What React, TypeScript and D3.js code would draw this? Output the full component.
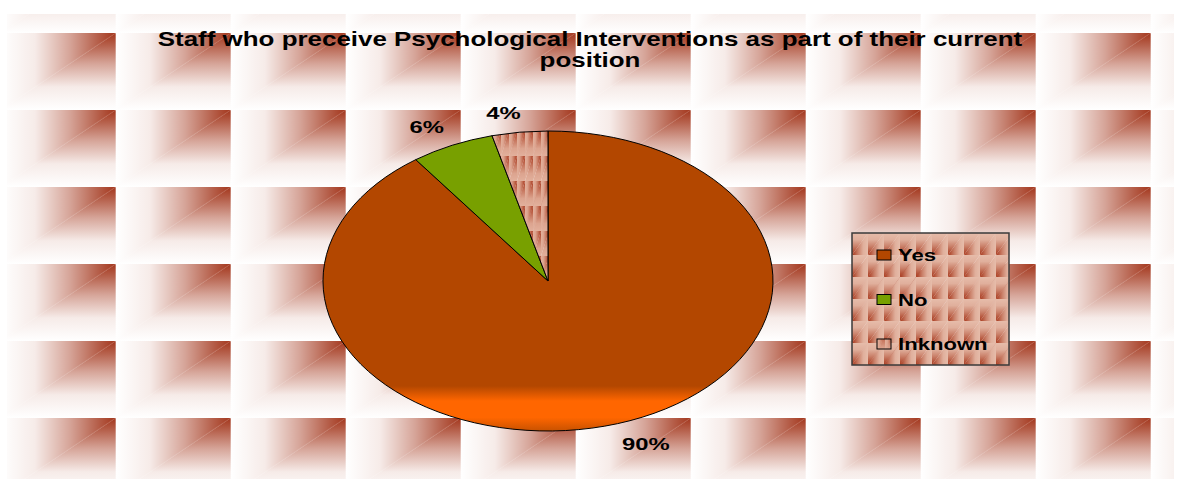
import React from "react";
import * as d3 from "d3";

const categories = ["Yes", "No", "Inknown"];
const values = [90, 6, 4];
const valueLabels = ["90%", "6%", "4%"];
const titleLines = [
  "Staff who preceive Psychological Interventions as part of their current",
  "position",
];

const W = 1181;
const H = 479;
const FONT = "'Liberation Sans', Arial, Helvetica, sans-serif";

const ramp = (base: string, dark: string) => {
  const ip = d3.interpolateRgb(base, dark);
  return [0, 0.3, 0.6, 0.85, 1].map((o, i) => ({
    o,
    c: ip([0, 0.1, 0.45, 0.8, 1][i]),
  }));
};

function Tile({ id, x, y, w, h, base, dark, rotate }: any) {
  const stops = ramp(base, dark);
  return (
    <g>
      <linearGradient id={id + "-h"} x1="0" y1="0" x2="1" y2="0">
        {stops.map((s, i) => (
          <stop key={i} offset={s.o} stopColor={s.c} />
        ))}
      </linearGradient>
      <linearGradient id={id + "-v"} x1="0" y1="1" x2="0" y2="0">
        {stops.map((s, i) => (
          <stop key={i} offset={s.o} stopColor={s.c} />
        ))}
      </linearGradient>
      <pattern
        id={id}
        patternUnits="userSpaceOnUse"
        x={x}
        y={y}
        width={w}
        height={h}
      >
        <g transform={rotate ? `rotate(180 ${w / 2} ${h / 2})` : undefined}>
          <polygon points={`0,0 ${w},0 0,${h}`} fill={`url(#${id}-h)`} />
          <polygon points={`${w},0 ${w},${h} 0,${h}`} fill={`url(#${id}-v)`} />
        </g>
      </pattern>
    </g>
  );
}

export default function App() {
  const cx = 548;
  const cy = 281;
  const rx = 225;
  const ry = 150;

  const pie = d3.pie<number>().sort(null).value((d) => d)(values);
  const pt = (a: number, k = 1) => [cx + rx * k * Math.sin(a), cy - ry * k * Math.cos(a)];
  const slicePath = (s: any) => {
    const [x0, y0] = pt(s.startAngle);
    const [x1, y1] = pt(s.endAngle);
    const large = s.endAngle - s.startAngle > Math.PI ? 1 : 0;
    return `M${cx},${cy}L${x0},${y0}A${rx},${ry} 0 ${large} 1 ${x1},${y1}Z`;
  };
  const fills = ["url(#yesGrad)", "#78a000", "url(#unkPat)"];
  const swatch = ["#b34700", "#78a000", "url(#unkPat)"];

  const labelScale = 1.4;
  const labelW = (t: string) => t.length * 9.5 * labelScale * 0.95;

  const legendX = 852;
  const legendY = 233;
  const legendW = 157;
  const legendH = 132;
  const legendRow = d3.scaleLinear().domain([0, 2]).range([legendY + 22, legendY + 111]);

  return (
    <div style={{ position: "absolute", left: 0, top: 0 }}>
      <svg width={W} height={H} style={{ display: "block", background: "#fff" }}>
        <defs>
          <Tile id="bgTile" x={0.7} y={33} w={115} h={77} base="#ffffff" dark="#a3361c" />
          <Tile id="legTile" x={legendX} y={legendY} w={16} h={22} base="#e6bcaa" dark="#a8381c" rotate />
          <Tile id="unkPat" x={493} y={131} w={8} h={25} base="#e2b09c" dark="#a8381c" />
          <linearGradient id="yesGrad" x1="0" y1="0" x2="0" y2="1">
            <stop offset="0" stopColor="#b34700" />
            <stop offset="0.85" stopColor="#b34700" />
            <stop offset="0.9" stopColor="#ff6600" />
            <stop offset="0.955" stopColor="#ff6600" />
            <stop offset="1" stopColor="#c85200" />
          </linearGradient>
          <clipPath id="plotClip">
            <rect x={7} y={14} width={1167} height={465} />
          </clipPath>
        </defs>

        <rect x={7} y={14} width={1167} height={465} fill="url(#bgTile)" clipPath="url(#plotClip)" />

        {titleLines.map((t, i) => (
          <text
            key={i}
            transform={`translate(590 ${46 + i * 21}) scale(1.33 1)`}
            textAnchor="middle"
            fontFamily={FONT}
            fontWeight="bold"
            fontSize={19.5}
            fill="#000"
          >
            {t}
          </text>
        ))}

        {pie.map((s, i) => (
          <path key={i} d={slicePath(s)} fill={fills[i]} stroke="#000" strokeWidth={1} />
        ))}

        {pie.map((s, i) => {
          const a = (s.startAngle + s.endAngle) / 2;
          const [px, py] = pt(a);
          const sx = Math.sin(a);
          const cyv = Math.cos(a);
          const w = labelW(valueLabels[i]);
          const lx = px + 30 * sx + Math.sign(sx) * w / 2;
          const ly = py - 10 * cyv + (cyv > 0 ? -3 : 16.5);
          return (
            <text
              key={i}
              transform={`translate(${lx} ${ly}) scale(${labelScale} 1)`}
              textAnchor="middle"
              fontFamily={FONT}
              fontWeight="bold"
              fontSize={17}
              fill="#000"
            >
              {valueLabels[i]}
            </text>
          );
        })}

        <rect
          x={legendX}
          y={legendY}
          width={legendW}
          height={legendH}
          fill="url(#legTile)"
          stroke="#3a3a3a"
          strokeWidth={1.5}
        />
        {categories.map((c, i) => {
          const y = legendRow(i);
          return (
            <g key={c}>
              <rect x={877} y={y - 5} width={14} height={10} fill={swatch[i]} stroke="#000" strokeWidth={1} />
              <text
                transform={`translate(898 ${y + 6}) scale(1.3 1)`}
                fontFamily={FONT}
                fontWeight="bold"
                fontSize={17}
                fill="#000"
              >
                {c}
              </text>
            </g>
          );
        })}
      </svg>
    </div>
  );
}
